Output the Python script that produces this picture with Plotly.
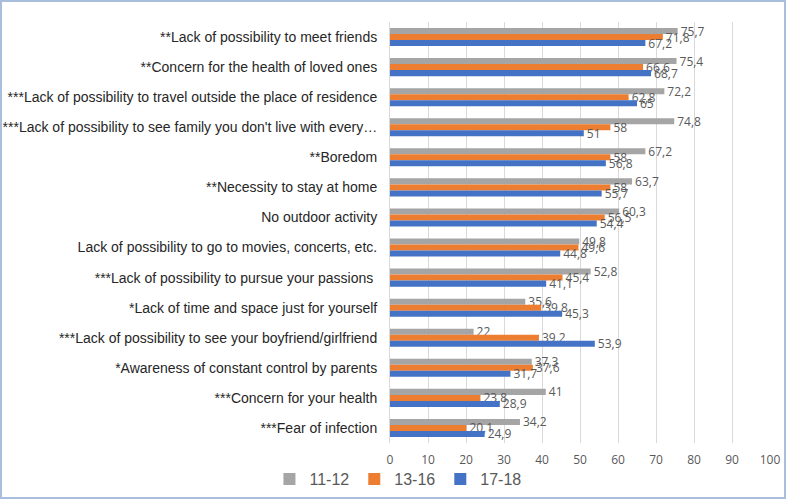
import plotly.graph_objects as go

categories = [
    "**Lack of possibility to meet friends",
    "**Concern for the health of loved ones",
    "***Lack of possibility to travel outside the place of residence",
    "***Lack of possibility to see family you don't live with every…",
    "**Boredom",
    "**Necessity to stay at home",
    "No outdoor activity",
    "Lack of possibility to go to movies, concerts, etc.",
    "***Lack of possibility to pursue your passions\u00a0",
    "*Lack of time and space just for yourself",
    "***Lack of possibility to see your boyfriend/girlfriend",
    "*Awareness of constant control by parents",
    "***Concern for your health",
    "***Fear of infection",
]

age_11_12 = [75.7, 75.4, 72.2, 74.8, 67.2, 63.7, 60.3, 49.8, 52.8, 35.6, 22, 37.3, 41, 34.2]
age_13_16 = [71.8, 66.6, 62.8, 58, 58, 58, 56.5, 49.6, 45.4, 39.8, 39.2, 37.6, 23.8, 20.1]
age_17_18 = [67.2, 68.7, 65, 51, 56.8, 55.7, 54.4, 44.8, 41.1, 45.3, 53.9, 31.7, 28.9, 24.9]

series_names = ["11-12", "13-16", "17-18"]
series_values = [age_11_12, age_13_16, age_17_18]
series_colors = ["#A5A5A5", "#ED7D31", "#4472C4"]

x_ticks = list(range(0, 101, 10))


def fmt(v):
    s = ("%g" % v)
    return s.replace(".", ",")


fig = go.Figure()
for name, vals, col in zip(series_names, series_values, series_colors):
    fig.add_trace(go.Bar(
        y=categories, x=vals, name=name, orientation="h",
        marker=dict(color=col, line=dict(width=0)),
        text=[fmt(v) for v in vals],
        textposition="outside",
        constraintext="none",
        cliponaxis=False,
        textfont=dict(family="Open Sans", size=12, color="#595959"),
    ))

fig.update_layout(
    width=788, height=500,
    margin=dict(l=390, r=18, t=22, b=57, autoexpand=False),
    paper_bgcolor="white", plot_bgcolor="white",
    barmode="group", bargap=0.4, bargroupgap=0,
    showlegend=True,
    legend=dict(
        orientation="h", xref="container", yref="container",
        x=0.505, xanchor="center", y=0.042, yanchor="middle",
        font=dict(family="Liberation Sans", size=16, color="#595959"),
        itemwidth=30, traceorder="normal", bgcolor="rgba(0,0,0,0)",
    ),
    font=dict(family="Liberation Sans"),
)

fig.update_yaxes(
    type="category", autorange="reversed",
    showline=True, linecolor="#D9D9D9", linewidth=1,
    showgrid=False, ticks="", ticklabelstandoff=9,
    tickfont=dict(family="Liberation Sans", size=14, color="#262626"),
)
fig.update_xaxes(
    range=[0, 100], tickvals=x_ticks, ticktext=[str(t) for t in x_ticks],
    showgrid=True, gridcolor="#D9D9D9", gridwidth=1,
    zeroline=False, showline=False, ticks="",
    ticklabelstandoff=8,
    tickfont=dict(family="Open Sans", size=12, color="#595959"),
)

# outer frame
fig.add_shape(type="rect", xref="paper", yref="paper",
              x0=(1 - 390) / 380, x1=(785 - 390) / 380,
              y0=(443 - 498) / 421, y1=(443 - 1) / 421,
              line=dict(color="#A9BEDD", width=2), fillcolor="rgba(0,0,0,0)",
              layer="below")

fig.write_html("out.html", config={"displayModeBar": False},
               post_script="document.body.style.margin='0';document.body.style.overflow='hidden';")
